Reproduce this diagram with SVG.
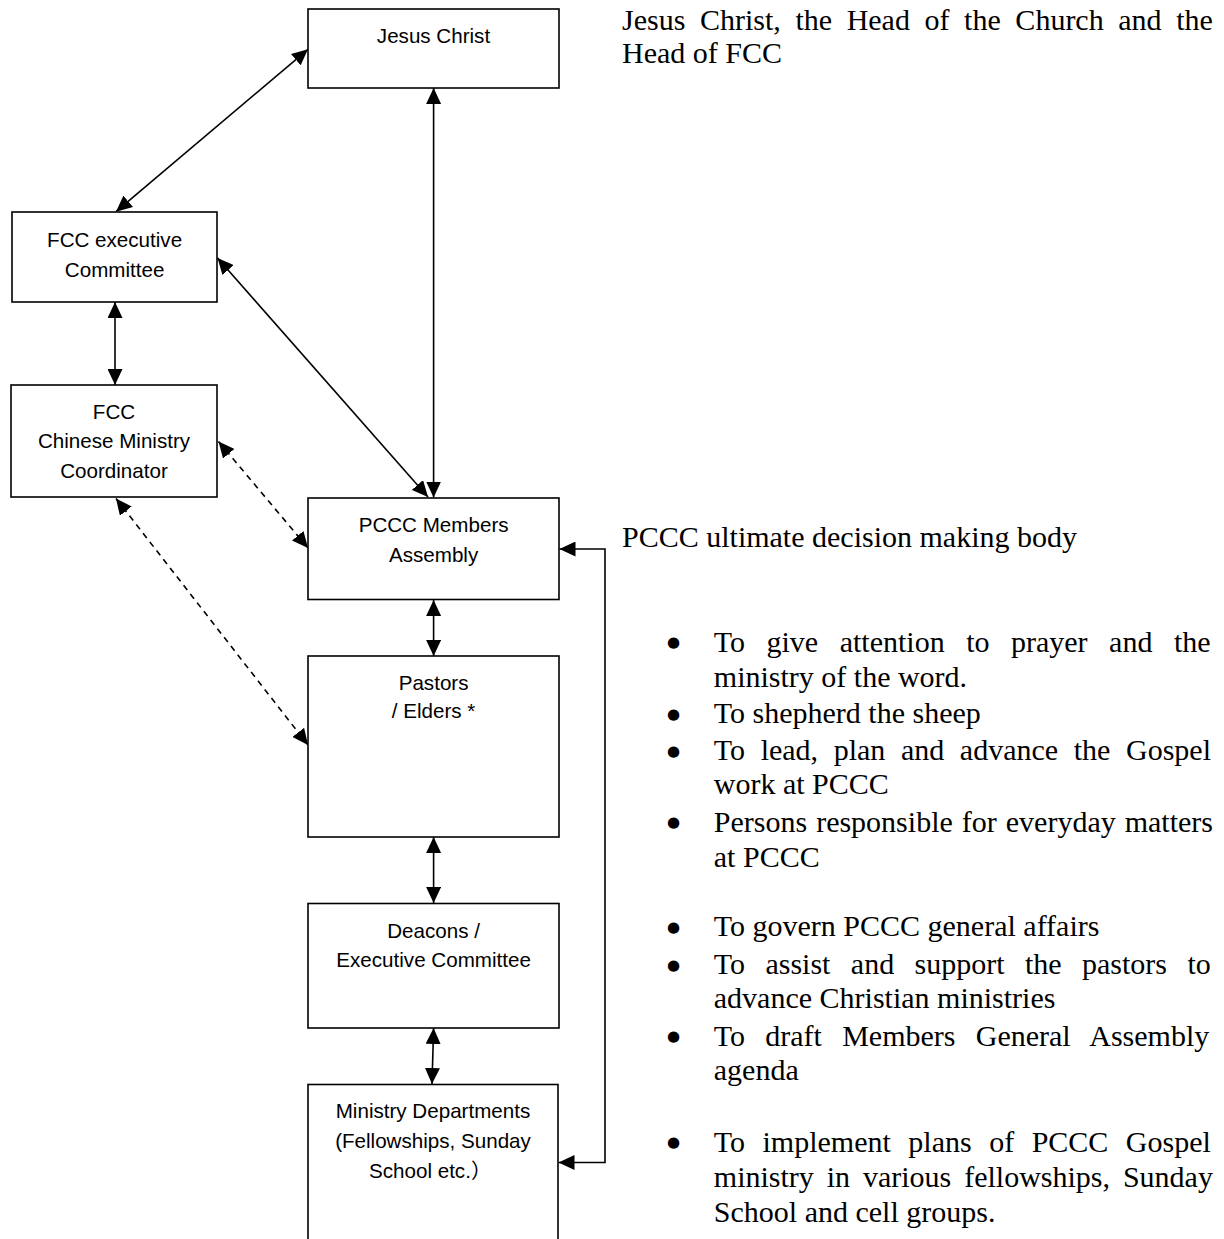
<svg xmlns="http://www.w3.org/2000/svg" width="1224" height="1239" viewBox="0 0 1224 1239">
<style>
.box{fill:#fff;stroke:#000;stroke-width:1.6}
.lbl{font-family:"Liberation Sans","Noto Sans CJK SC",Arial,sans-serif;font-size:20.6px;fill:#000;text-anchor:middle}
.note{font-family:"Liberation Serif","Times New Roman",serif;font-size:30px;fill:#000}
.bul{font-family:"DejaVu Sans",sans-serif;font-size:15px;fill:#000;text-anchor:middle}
.ln{fill:none;stroke:#000;stroke-width:1.6}
.dash{fill:none;stroke:#000;stroke-width:1.6;stroke-dasharray:6 5}
</style>
<defs>
<marker id="ah" viewBox="0 0 16 15" markerWidth="16" markerHeight="15" refX="16" refY="7.5" orient="auto-start-reverse" markerUnits="userSpaceOnUse">
<path d="M0,0 L16,7.5 L0,15 z" fill="#000"/>
</marker>
</defs>
<rect width="1224" height="1239" fill="#fff"/>

<g id="connectors">
<line class="ln" x1="308" y1="49.3" x2="116" y2="211.7" marker-start="url(#ah)" marker-end="url(#ah)"/>
<line class="ln" x1="433.6" y1="88" x2="433.6" y2="497.5" marker-start="url(#ah)" marker-end="url(#ah)"/>
<line class="ln" x1="217.5" y1="258" x2="428" y2="497" marker-start="url(#ah)" marker-end="url(#ah)"/>
<line class="ln" x1="115" y1="302" x2="115" y2="385" marker-start="url(#ah)" marker-end="url(#ah)"/>
<line class="dash" x1="218.5" y1="441.5" x2="308" y2="548" marker-start="url(#ah)" marker-end="url(#ah)"/>
<line class="dash" x1="116" y1="498.5" x2="308" y2="745" marker-start="url(#ah)" marker-end="url(#ah)"/>
<line class="ln" x1="433.6" y1="600" x2="433.6" y2="656" marker-start="url(#ah)" marker-end="url(#ah)"/>
<line class="ln" x1="433.6" y1="837" x2="433.6" y2="903" marker-start="url(#ah)" marker-end="url(#ah)"/>
<line class="ln" x1="433.6" y1="1028" x2="432" y2="1084" marker-start="url(#ah)" marker-end="url(#ah)"/>
<path class="ln" d="M559.5,549 H605 V1162.5 H558.5" marker-start="url(#ah)" marker-end="url(#ah)"/>
</g>

<g id="jesus">
<rect class="box" x="308" y="9" width="251" height="79"/>
<text class="lbl" x="433.5" y="42.7">Jesus Christ</text>
</g>
<g id="fcc-exec">
<rect class="box" x="12" y="212" width="205" height="90"/>
<text class="lbl" x="114.6" y="246.7">FCC executive</text>
<text class="lbl" x="114.6" y="276.7">Committee</text>
</g>
<g id="fcc-coord">
<rect class="box" x="11" y="385" width="206" height="112"/>
<text class="lbl" x="114" y="419">FCC</text>
<text class="lbl" x="114" y="448.3">Chinese Ministry</text>
<text class="lbl" x="114" y="478.3">Coordinator</text>
</g>
<g id="pccc-assembly">
<rect class="box" x="308" y="498" width="251" height="101.5"/>
<text class="lbl" x="433.6" y="531.7">PCCC Members</text>
<text class="lbl" x="433.6" y="561.7">Assembly</text>
</g>
<g id="pastors">
<rect class="box" x="308" y="656" width="251" height="181"/>
<text class="lbl" x="433.6" y="690">Pastors</text>
<text class="lbl" x="433.6" y="718.3">/ Elders *</text>
</g>
<g id="deacons">
<rect class="box" x="308" y="903.5" width="251" height="124.5"/>
<text class="lbl" x="433.6" y="937.7">Deacons /</text>
<text class="lbl" x="433.6" y="967.3">Executive Committee</text>
</g>
<g id="ministry">
<rect class="box" x="308" y="1084.5" width="250" height="170"/>
<text class="lbl" x="433" y="1118.3">Ministry Departments</text>
<text class="lbl" x="433" y="1148.3">(Fellowships, Sunday</text>
<text class="lbl" x="369" y="1177.7" style="text-anchor:start">School etc.）</text>
</g>

<g id="notes">
<text class="note" x="622" y="30" style="word-spacing:7.1px">Jesus Christ, the Head of the Church and the</text>
<text class="note" x="622" y="63.3">Head of FCC</text>
<text class="note" x="622" y="546.7">PCCC ultimate decision making body</text>

<text class="bul" x="673.6" y="647.4">●</text>
<text class="note" x="713.8" y="651.7" style="word-spacing:14px">To give attention to prayer and the</text>
<text class="note" x="713.8" y="686.7">ministry of the word.</text>
<text class="bul" x="673.6" y="719">●</text>
<text class="note" x="713.8" y="723.3">To shepherd the sheep</text>
<text class="bul" x="673.6" y="755.7">●</text>
<text class="note" x="713.8" y="760" style="word-spacing:8.1px">To lead, plan and advance the Gospel</text>
<text class="note" x="713.8" y="794">work at PCCC</text>
<text class="bul" x="673.6" y="827.4">●</text>
<text class="note" x="713.8" y="831.7" style="word-spacing:1.5px">Persons responsible for everyday matters</text>
<text class="note" x="713.8" y="866.7">at PCCC</text>

<text class="bul" x="673.6" y="931.7">●</text>
<text class="note" x="713.8" y="936">To govern PCCC general affairs</text>
<text class="bul" x="673.6" y="969.7">●</text>
<text class="note" x="713.8" y="974" style="word-spacing:12.9px">To assist and support the pastors to</text>
<text class="note" x="713.8" y="1008.3">advance Christian ministries</text>
<text class="bul" x="673.6" y="1041.4">●</text>
<text class="note" x="713.8" y="1045.7" style="word-spacing:12.75px">To draft Members General Assembly</text>
<text class="note" x="713.8" y="1080">agenda</text>

<text class="bul" x="673.6" y="1147.4">●</text>
<text class="note" x="713.8" y="1151.7" style="word-spacing:10px">To implement plans of PCCC Gospel</text>
<text class="note" x="713.8" y="1187.3" style="word-spacing:5.4px">ministry in various fellowships, Sunday</text>
<text class="note" x="713.8" y="1221.7">School and cell groups.</text>
</g>
</svg>
